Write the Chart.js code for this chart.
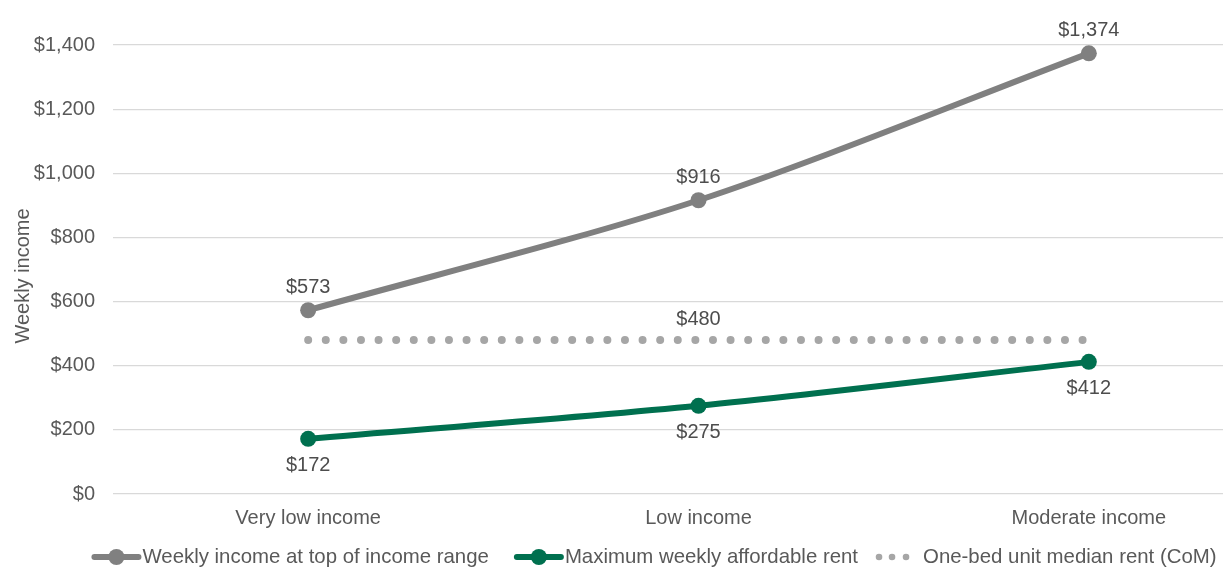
<!DOCTYPE html>
<html>
<head>
<meta charset="utf-8">
<script src="https://cdn.jsdelivr.net/npm/chart.js@4/dist/chart.umd.min.js"></script>
<style>
  html, body { margin: 0; padding: 0; background: #ffffff; overflow: hidden; }
  #wrap { width: 1308px; height: 570px; }
</style>
</head>
<body>
<div id="wrap"><canvas id="c" width="1308" height="570"></canvas></div>
<script>
// Income bands and weekly amounts (AUD)
const categories = ['Very low income', 'Low income', 'Moderate income'];
const weeklyIncome = [573, 916, 1374];
const affordableRent = [172, 275, 412];
const medianRent = [480, 480, 480];
const yTicks = [0, 200, 400, 600, 800, 1000, 1200, 1400];
const seriesNames = [
  'Weekly income at top of income range',
  'Maximum weekly affordable rent',
  'One-bed unit median rent (CoM)'
];
const yAxisTitle = 'Weekly income';

const GREY = '#808080';
const GREEN = '#00704f';
const DOT = '#a6a6a6';
const TEXT = '#595959';
const FONT = "'Liberation Sans', Arial, sans-serif";

const money = v => '$' + v.toLocaleString('en-US');

// Value labels next to points
const valueLabels = {
  id: 'valueLabels',
  afterDatasetsDraw(chart) {
    const ctx = chart.ctx;
    ctx.save();
    ctx.font = '20px ' + FONT;
    ctx.fillStyle = '#4d4d4d';
    ctx.textAlign = 'center';
    ctx.textBaseline = 'middle';
    chart.data.datasets.forEach((ds, di) => {
      const meta = chart.getDatasetMeta(di);
      meta.data.forEach((pt, i) => {
        const v = ds.data[i];
        if (di === 0) ctx.fillText(money(v), pt.x, pt.y - 23);
        else if (di === 1) ctx.fillText(money(v), pt.x, pt.y + 27);
        else if (di === 2 && i === 1) ctx.fillText(money(v), pt.x, pt.y - 21);
      });
    });
    ctx.restore();
  }
};

// Rotated y-axis title
const axisTitle = {
  id: 'axisTitle',
  afterDraw(chart) {
    const ctx = chart.ctx;
    ctx.save();
    ctx.font = '20px ' + FONT;
    ctx.fillStyle = TEXT;
    ctx.textAlign = 'center';
    ctx.textBaseline = 'middle';
    ctx.translate(23, 276);
    ctx.rotate(-Math.PI / 2);
    ctx.fillText(yAxisTitle, 0, 0);
    ctx.restore();
  }
};

// Legend row along the bottom: line-with-marker swatches and a dotted swatch
const bottomLegend = {
  id: 'bottomLegend',
  afterDraw(chart) {
    const ctx = chart.ctx;
    const y = 557;
    const centerX = 654;
    ctx.save();
    ctx.font = '20.4px ' + FONT;
    ctx.textBaseline = 'middle';
    ctx.textAlign = 'left';
    const items = chart.data.datasets.map((ds, i) => ({
      text: ds.label,
      color: ds.borderColor,
      dotted: i === 2,
      width: ctx.measureText(ds.label).width
    }));
    const lineSlot = 51, dotSlot = 47, gap = 25, dotGap = 18;
    let total = 0;
    items.forEach((it, i) => {
      total += (it.dotted ? dotSlot : lineSlot) + it.width;
      if (i > 0) total += it.dotted ? dotGap : gap;
    });
    let x = centerX - total / 2;
    items.forEach((it, i) => {
      if (i > 0) x += it.dotted ? dotGap : gap;
      ctx.fillStyle = it.color;
      ctx.strokeStyle = it.color;
      if (it.dotted) {
        [3, 16, 30].forEach(dx => {
          ctx.beginPath(); ctx.arc(x + dx, y, 3.3, 0, Math.PI * 2); ctx.fill();
        });
        x += dotSlot;
      } else {
        ctx.lineWidth = 6; ctx.lineCap = 'round';
        ctx.beginPath(); ctx.moveTo(x + 3, y); ctx.lineTo(x + 47, y); ctx.stroke();
        ctx.beginPath(); ctx.arc(x + 25, y, 8, 0, Math.PI * 2); ctx.fill();
        x += lineSlot;
      }
      ctx.fillStyle = TEXT;
      ctx.fillText(it.text, x, y);
      x += it.width;
    });
    ctx.restore();
  }
};

new Chart(document.getElementById('c'), {
  type: 'line',
  data: {
    labels: categories,
    datasets: [
      {
        label: seriesNames[0], data: weeklyIncome,
        borderColor: GREY, backgroundColor: GREY, borderWidth: 6,
        pointRadius: 8, pointHoverRadius: 8, pointBackgroundColor: GREY, pointBorderWidth: 0,
        tension: 0.3, order: 1
      },
      {
        label: seriesNames[1], data: affordableRent,
        borderColor: GREEN, backgroundColor: GREEN, borderWidth: 6,
        pointRadius: 8, pointHoverRadius: 8, pointBackgroundColor: GREEN, pointBorderWidth: 0,
        tension: 0.3, order: 0
      },
      {
        label: seriesNames[2], data: medianRent,
        borderColor: DOT, backgroundColor: DOT, borderWidth: 8,
        borderDash: [0, 17.6], borderCapStyle: 'round',
        pointRadius: 0, pointHoverRadius: 0, tension: 0, order: 2
      }
    ]
  },
  options: {
    responsive: false,
    animation: false,
    events: [],
    layout: { padding: { top: 45, right: 24, left: 0, bottom: 28 } },
    scales: {
      x: {
        offset: true,
        grid: { display: false, drawTicks: false },
        border: { display: false },
        ticks: { color: TEXT, font: { family: FONT, size: 20 }, padding: 12 }
      },
      y: {
        min: 0, max: 1400,
        afterBuildTicks: axis => { axis.ticks = yTicks.map(v => ({ value: v })); },
        afterFit: axis => { axis.width = 113; },
        grid: { color: '#d9d9d9', lineWidth: 1.2, drawTicks: false },
        border: { display: false },
        ticks: { color: TEXT, font: { family: FONT, size: 20 }, padding: 18, callback: v => money(v) }
      }
    },
    plugins: {
      tooltip: { enabled: false },
      legend: { display: false }
    }
  },
  plugins: [valueLabels, axisTitle, bottomLegend]
});
</script>
</body>
</html>
